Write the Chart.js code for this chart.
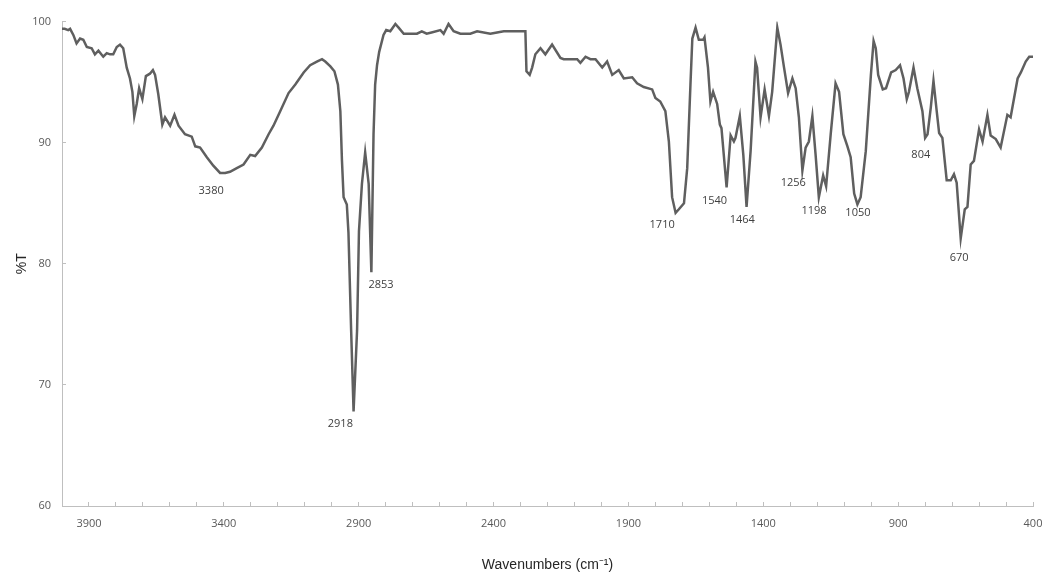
<!DOCTYPE html>
<html>
<head>
<meta charset="utf-8">
<script src="https://cdn.jsdelivr.net/npm/chart.js@4"></script>
<style>
  body { margin: 0; background: #fff; }
  #wrap { width: 1046px; height: 577px; }
</style>
</head>
<body>
<div id="wrap"><canvas id="ftir"></canvas></div>
<script>
// FTIR spectrum, values
const wavenumbers = [
  4000, 3990, 3977, 3970, 3958, 3946, 3933, 3921, 3908, 3890, 3878, 3865, 3847, 3834, 3822, 3810,
  3797, 3785, 3773, 3760, 3748, 3739, 3732, 3723, 3714, 3702, 3689, 3674, 3663, 3655, 3643, 3628,
  3618, 3599, 3583, 3568, 3544, 3519, 3506, 3488, 3463, 3439, 3414, 3395, 3377, 3352, 3327, 3302,
  3284, 3259, 3234, 3216, 3191, 3160, 3135, 3104, 3080, 3055, 3036, 3024, 3005, 2990, 2977, 2968,
  2962, 2956, 2944, 2938, 2928, 2919, 2906, 2899, 2888, 2876, 2863, 2853, 2845, 2839, 2832, 2824,
  2808, 2798, 2783, 2764, 2752, 2733, 2684, 2666, 2648, 2630, 2597, 2585, 2567, 2548, 2523, 2486,
  2461, 2412, 2387, 2362, 2313, 2282, 2278, 2266, 2257, 2245, 2226, 2208, 2183, 2152, 2140, 2090,
  2078, 2059, 2041, 2022, 1997, 1979, 1960, 1936, 1917, 1886, 1868, 1843, 1812, 1800, 1782, 1763,
  1750, 1738, 1725, 1713, 1694, 1682, 1670, 1663, 1651, 1639, 1623, 1618, 1605, 1596, 1586, 1571,
  1561, 1555, 1536, 1521, 1509, 1503, 1487, 1474, 1462, 1447, 1429, 1423, 1410, 1395, 1379, 1367,
  1348, 1336, 1323, 1308, 1292, 1280, 1268, 1255, 1243, 1231, 1218, 1206, 1194, 1178, 1167, 1150,
  1132, 1119, 1103, 1088, 1076, 1063, 1051, 1039, 1020, 1001, 991, 983, 974, 957, 945, 926,
  909, 893, 880, 868, 860, 843, 829, 810, 800, 791, 779, 769, 757, 748, 736, 720,
  705, 693, 683, 668, 653, 643, 631, 619, 600, 587, 569, 557, 538, 520, 495, 483,
  457, 445, 427, 414, 400
];
const transmittance = [
  99.4, 99.4, 99.3, 99.4, 98.9, 98.2, 98.6, 98.5, 97.9, 97.8, 97.3, 97.6, 97.1, 97.4, 97.3, 97.3,
  97.9, 98.1, 97.8, 96.2, 95.3, 94.2, 92.2, 93.2, 94.5, 93.6, 95.5, 95.7, 96.0, 95.6, 94.0, 91.5,
  92.1, 91.4, 92.3, 91.4, 90.7, 90.5, 89.7, 89.6, 88.8, 88.1, 87.5, 87.5, 87.6, 87.9, 88.2, 89.0,
  88.9, 89.6, 90.7, 91.4, 92.6, 94.1, 94.8, 95.8, 96.4, 96.7, 96.9, 96.7, 96.3, 95.9, 94.8, 92.6,
  88.5, 85.5, 84.9, 82.6, 74.5, 67.8, 74.5, 82.7, 86.6, 89.2, 86.6, 79.3, 90.7, 94.8, 96.4, 97.5,
  98.9, 99.3, 99.2, 99.8, 99.5, 99.0, 99.0, 99.2, 99.0, 99.1, 99.3, 99.0, 99.8, 99.2, 99.0, 99.0,
  99.2, 99.0, 99.1, 99.2, 99.2, 99.2, 95.9, 95.6, 96.2, 97.3, 97.8, 97.3, 98.1, 97.0, 96.9, 96.9,
  96.6, 97.1, 96.9, 96.9, 96.2, 96.7, 95.6, 96.0, 95.3, 95.4, 94.9, 94.6, 94.4, 93.7, 93.4, 92.6,
  90.1, 85.5, 84.2, 84.5, 85.0, 87.9, 94.8, 98.6, 99.5, 98.5, 98.5, 98.7, 96.2, 93.4, 94.2, 93.2,
  91.5, 91.2, 86.3, 90.6, 90.1, 90.4, 92.2, 89.0, 84.7, 89.3, 96.7, 96.2, 92.1, 94.4, 92.2, 94.2,
  99.5, 98.1, 96.2, 94.1, 95.3, 94.5, 92.1, 87.7, 89.6, 90.1, 92.2, 89.0, 85.5, 87.3, 86.4, 90.7,
  94.9, 94.2, 90.7, 89.7, 88.8, 85.8, 84.9, 85.5, 89.3, 95.6, 98.4, 97.8, 95.6, 94.4, 94.5, 95.8,
  96.0, 96.4, 95.3, 93.6, 94.2, 96.2, 94.5, 92.6, 90.4, 90.7, 92.9, 95.1, 92.6, 90.8, 90.4, 86.9,
  86.9, 87.4, 86.7, 82.1, 84.5, 84.7, 88.2, 88.5, 91.1, 90.1, 92.3, 90.6, 90.3, 89.6, 92.3, 92.1,
  95.3, 95.8, 96.7, 97.1, 97.1
];

// peak annotations: text and where it sits (wavenumber, %T)
const peakNames = ['3380', '2918', '2853', '1710', '1540', '1464', '1256', '1198', '1050', '804', '670'];
const peakAtX = [3447, 2968, 2817, 1775, 1581, 1478, 1289, 1212, 1049, 816, 674];
const peakAtY = [86.0, 66.8, 78.3, 83.2, 85.2, 83.6, 86.7, 84.4, 84.2, 89.0, 80.5];

const xLabelEvery = 500;

const peakLabels = {
  id: 'peakLabels',
  afterDatasetsDraw(chart) {
    const { ctx, scales: { x, y } } = chart;
    ctx.save();
    ctx.font = '11px "Open Sans", sans-serif';
    ctx.fillStyle = '#404040';
    ctx.textAlign = 'center';
    ctx.textBaseline = 'middle';
    peakNames.forEach((name, i) => {
      ctx.fillText(name, x.getPixelForValue(peakAtX[i]), y.getPixelForValue(peakAtY[i]));
    });
    ctx.restore();
  }
};

const axisGrey = '#bfbfbf';
const tickFont = { family: '"Open Sans", sans-serif', size: 11 };

new Chart(document.getElementById('ftir'), {
  type: 'line',
  data: {
    datasets: [{
      data: wavenumbers.map((w, i) => ({ x: w, y: transmittance[i] })),
      borderColor: '#5f5f5f',
      borderWidth: 2.5,
      pointRadius: 0,
      tension: 0,
      fill: false
    }]
  },
  plugins: [peakLabels],
  options: {
    responsive: true,
    maintainAspectRatio: false,
    animation: false,
    layout: { padding: { top: 20, right: 13, left: 0, bottom: 0 } },
    plugins: {
      legend: { display: false },
      tooltip: { enabled: false }
    },
    scales: {
      x: {
        type: 'linear',
        reverse: true,
        min: 400,
        max: 4000,
        afterFit: s => {
          s.height = 71;
          s.paddingLeft = 0;
          s.paddingRight = 0;
        },
        border: { color: axisGrey, width: 1 },
        grid: { drawOnChartArea: false, drawTicks: true, tickLength: -4, color: axisGrey },
        ticks: {
          stepSize: 100,
          autoSkip: false,
          maxRotation: 0,
          padding: 15,
          color: '#595959',
          font: tickFont,
          callback: v => ((v - 400) % xLabelEvery === 0 ? String(v) : '')
        },
        title: {
          display: true,
          text: 'Wavenumbers (cm⁻¹)',
          color: '#262626',
          font: { family: '"Liberation Sans", Arial, sans-serif', size: 14 },
          padding: { top: 0, bottom: 3 }
        }
      },
      y: {
        min: 60,
        max: 100,
        afterFit: s => { s.width = 62; },
        border: { color: axisGrey, width: 1 },
        grid: { drawOnChartArea: false, drawTicks: true, tickLength: -4, color: axisGrey },
        ticks: {
          stepSize: 10,
          padding: 15,
          color: '#595959',
          font: tickFont
        },
        title: {
          display: true,
          text: '%T',
          color: '#262626',
          font: { family: '"Liberation Sans", Arial, sans-serif', size: 14 },
          padding: { top: 14, bottom: 0 }
        }
      }
    }
  }
});
</script>
</body>
</html>
